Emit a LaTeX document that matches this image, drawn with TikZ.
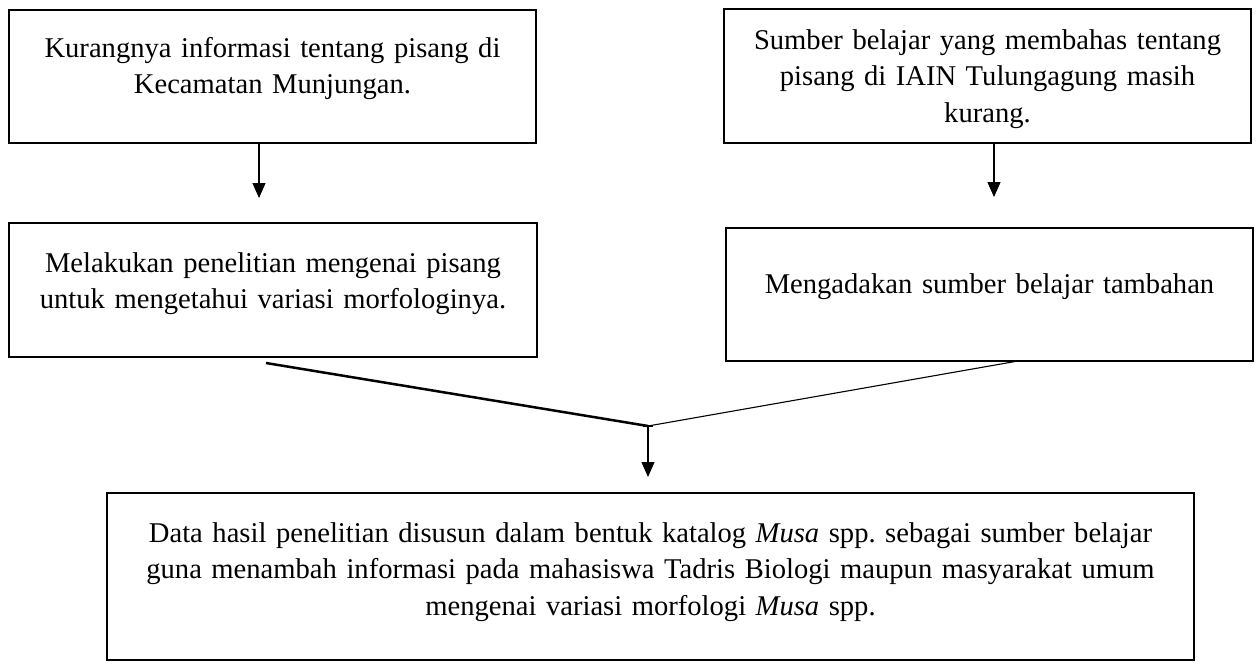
\documentclass[tikz,border=0pt]{standalone}
\usepackage{fontspec}
\setmainfont{Liberation Serif}
\usetikzlibrary{arrows.meta}
\frenchspacing
\begin{document}
\begin{tikzpicture}[x=1pt,y=-1pt,
  box/.style={draw, line width=2pt, inner sep=0pt, outer sep=0pt, rectangle},
  txt/.style={anchor=base, align=center, inner sep=0pt, font=\fontsize{28.6}{36.5}\selectfont},
  arr/.style={line width=1.2pt, -{Triangle[length=15pt,width=13pt]}}]
\useasboundingbox (0,0) rectangle (1259,664);
% boxes
\node[box, minimum width=527pt, minimum height=133pt] (b1) at (272.5,76.5) {};
\node[box, minimum width=527pt, minimum height=134pt] (b2) at (987.5,76) {};
\node[box, minimum width=528pt, minimum height=134pt] (b3) at (273,290) {};
\node[box, minimum width=527pt, minimum height=133pt] (b4) at (989.5,294.5) {};
\node[box, minimum width=1087pt, minimum height=167pt] (b5) at (650.5,576.5) {};
% texts
\node[txt, text width=520pt] (t1) at (272.5,57) {Kurangnya informasi tentang pisang di\\Kecamatan Munjungan.};
\node[txt, text width=520pt] (t2) at (987.5,49) {Sumber belajar yang membahas tentang\\pisang di IAIN Tulungagung masih\\kurang.};
\node[txt, text width=520pt] (t3) at (273,272) {Melakukan penelitian mengenai pisang\\untuk mengetahui variasi morfologinya.};
\node[txt, text width=520pt] (t4) at (989.5,293) {Mengadakan sumber belajar tambahan};
\node[txt, text width=1080pt] (t5) at (650.5,542) {Data hasil penelitian disusun dalam bentuk katalog \textit{Musa} spp. sebagai sumber belajar\\guna menambah informasi pada mahasiswa Tadris Biologi maupun masyarakat umum\\mengenai variasi morfologi \textit{Musa} spp.};
% connectors
\coordinate (e1) at (259,198);
\draw[arr] (b1.south -| e1) -- (e1);
\coordinate (e2) at (994,197);
\draw[arr] (b2.south -| e2) -- (e2);
\coordinate (s3) at (266,363);
\coordinate (j) at (648,426);
\draw[line width=2.5pt] (s3) -- (j);
\draw[line width=1.1pt] ([xshift=28.5pt]b4.south) -- (j);
\coordinate (e5) at (648,477);
\draw[arr] (j) -- (e5);
\draw[line width=1.2pt] ([xshift=-5pt]j) -- ([xshift=5pt]j);
\end{tikzpicture}
\end{document}
